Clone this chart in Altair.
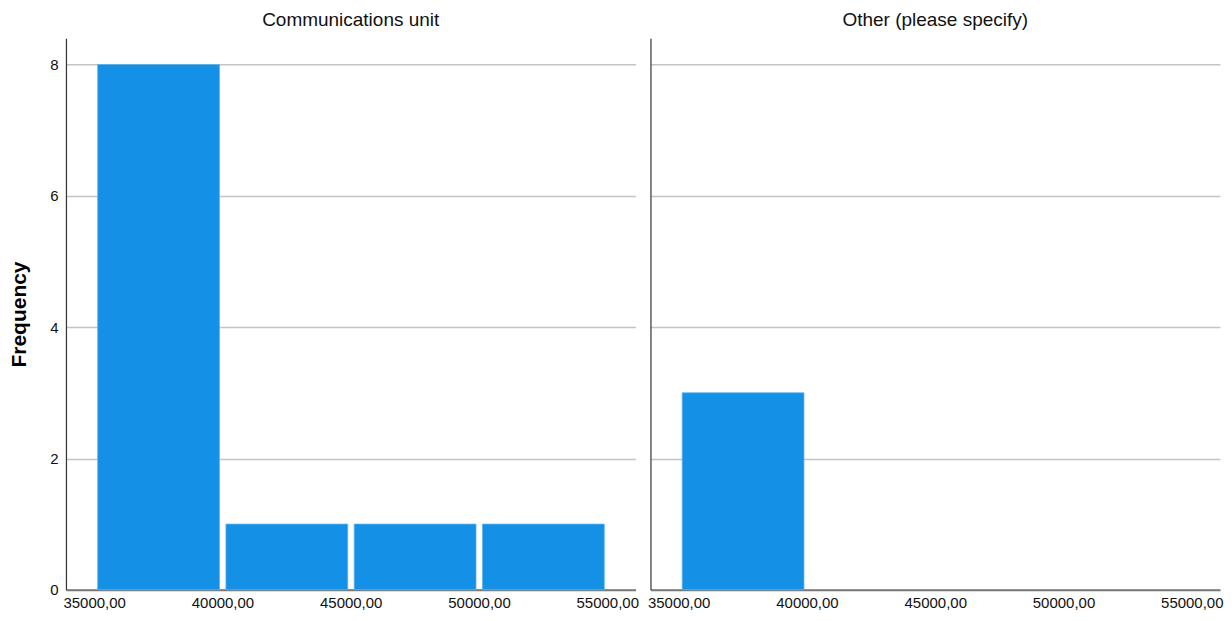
import altair as alt
import pandas as pd

bin_start = [35000, 40000, 45000, 50000]
bin_end = [40000, 45000, 50000, 55000]
comm_counts = [8, 1, 1, 1]
other_counts = [3, 0, 0, 0]
panel_titles = ["Communications unit", "Other (please specify)"]
x_ticks = [35000, 40000, 45000, 50000, 55000]
y_ticks = [0, 2, 4, 6, 8]

FONT = "Liberation Sans"
BAR = "#1490E6"

def panel(counts, title, show_y):
    df = pd.DataFrame({"start": bin_start, "end": bin_end, "count": counts})
    df = df[df["count"] > 0]
    yaxis = alt.Axis(
        values=y_ticks, grid=True, gridColor="#C4C4C4", gridWidth=1.5,
        domainColor="#333333", domainWidth=1.2, ticks=False,
        labelFont=FONT, labelFontSize=15, labelColor="#111111",
        labelPadding=8 if show_y else 0,
        title="Frequency" if show_y else None, titleFont=FONT, titleFontSize=21,
        titleFontWeight="bold", titleColor="#000000", titlePadding=20,
        labels=show_y,
    )
    xaxis = alt.Axis(
        values=x_ticks, grid=False, ticks=False, domainColor="#777777", domainWidth=1.8,
        labelExpr="replace(format(datum.value, '.2f'), '.', ',')",
        labelFont=FONT, labelFontSize=15, labelColor="#111111", labelPadding=6,
        labelOverlap=False, labelBound=False, labelFlush=False, title=None,
    )
    return alt.Chart(df).mark_rect(
        color=BAR, xOffset=3.5, x2Offset=-3, stroke="#5DB1EE", strokeWidth=0.8
    ).encode(
        x=alt.X("start:Q", scale=alt.Scale(domain=[33900, 56100], nice=False, zero=False), axis=xaxis),
        x2="end:Q",
        y=alt.Y("count:Q", scale=alt.Scale(domain=[0, 8.4], nice=False), axis=yaxis),
    ).properties(
        width=570, height=552,
        title=alt.TitleParams(title, font=FONT, fontSize=19, fontWeight="normal",
                              color="#111111", offset=8),
    )

chart = alt.hconcat(
    panel(comm_counts, panel_titles[0], True),
    panel(other_counts, panel_titles[1], False),
    spacing=7,
).properties(
    padding={"left": 0, "top": 3, "right": 0, "bottom": 0}
).configure(background="white").configure_view(strokeWidth=0)

chart.save("out.html", embed_options={"renderer": "svg", "actions": False})
